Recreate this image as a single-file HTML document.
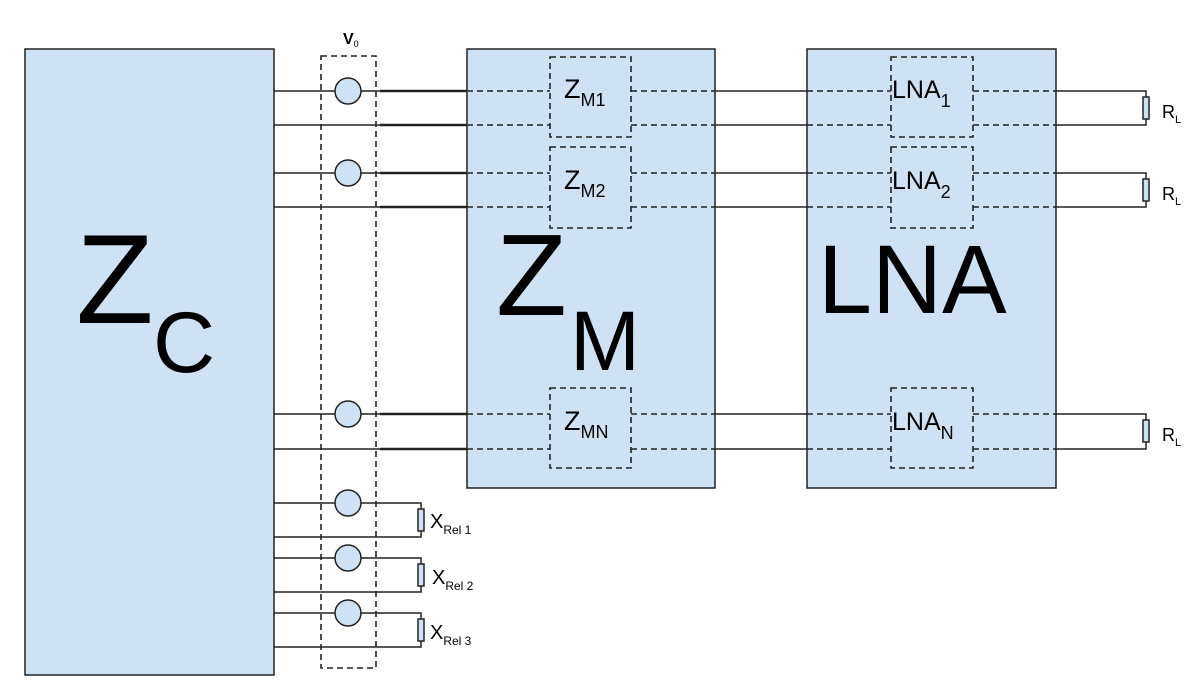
<!DOCTYPE html>
<html><head><meta charset="utf-8"><style>
body{margin:0;background:#fff;}
svg{display:block;font-family:"Liberation Sans",Arial,sans-serif;}
</style></head><body>
<svg width="1197" height="689" viewBox="0 0 1197 689" xmlns="http://www.w3.org/2000/svg">
<g stroke="#222" stroke-width="1.5">
<rect x="25" y="49" width="249" height="626" fill="#cfe2f3"/>
<rect x="467" y="49" width="248" height="439" fill="#cfe2f3"/>
<rect x="807" y="49" width="249" height="439" fill="#cfe2f3"/>
</g>
<g fill="none" stroke="#222" stroke-width="1.6" stroke-dasharray="6,4">
<rect x="321" y="56" width="55" height="612"/>
<rect x="550" y="57" width="81" height="80"/>
<rect x="550" y="147" width="81" height="81"/>
<rect x="550" y="388" width="81" height="80"/>
<rect x="891" y="57" width="82" height="80"/>
<rect x="891" y="147" width="82" height="81"/>
<rect x="891" y="388" width="82" height="80"/>
</g>
<g stroke="#222" stroke-width="1.5" fill="none">
<path d="M274 91H467M274 125H467M274 173H467M274 207H467M274 414H467M274 449H467"/>
<path d="M715 91H807M715 125H807M715 173H807M715 207H807M715 414H807M715 449H807"/>
<path d="M1056 91H1146V125H1056M1056 173H1146V207H1056M1056 414H1146V449H1056"/>
<path d="M274 503H421V537H274M274 558H421V592H274M274 613H421V647H274"/>
</g>
<g stroke="#222" stroke-width="2.5"><path d="M380 91H467M380 125H467M380 173H467M380 207H467M380 414H467M380 449H467"/></g>
<g stroke="#222" stroke-width="1.6" stroke-dasharray="6,4">
<path d="M467 91H550M467 125H550M467 173H550M467 207H550M467 414H550M467 449H550"/>
<path d="M631 91H715M631 125H715M631 173H715M631 207H715M631 414H715M631 449H715"/>
<path d="M807 91H891M807 125H891M807 173H891M807 207H891M807 414H891M807 449H891"/>
<path d="M973 91H1056M973 125H1056M973 173H1056M973 207H1056M973 414H1056M973 449H1056"/>
</g>
<g fill="#cfe2f3" stroke="#222" stroke-width="1.5">
<rect x="1143" y="97" width="6" height="22"/><rect x="1143" y="179" width="6" height="22"/><rect x="1143" y="420" width="6" height="22"/>
<rect x="418" y="509" width="6" height="22"/><rect x="418" y="564" width="6" height="22"/><rect x="418" y="619" width="6" height="22"/>
</g>
<g fill="#cfe2f3" stroke="#222" stroke-width="1.5">
<circle cx="348" cy="91" r="13"/><circle cx="348" cy="173" r="13"/><circle cx="348" cy="414" r="13"/>
<circle cx="348" cy="503" r="13"/><circle cx="348" cy="558" r="13"/><circle cx="348" cy="613" r="13"/>
</g>
<g fill="#000">
<text x="343" y="44" font-size="16" font-weight="bold">V<tspan font-size="9" font-weight="normal" dy="3">0</tspan></text>
<text x="76" y="323" font-size="127">Z</text>
<text x="153" y="372" font-size="86">C</text>
<text x="496" y="315" font-size="116">Z</text>
<text x="570" y="370" font-size="84">M</text>
<text x="818" y="313" font-size="97">LNA</text>
<text x="564" y="98" font-size="27">Z<tspan font-size="18" dy="8">M1</tspan></text>
<text x="564" y="189" font-size="27">Z<tspan font-size="18" dy="8">M2</tspan></text>
<text x="564" y="430" font-size="27">Z<tspan font-size="18" dy="8">MN</tspan></text>
<text x="892" y="98" font-size="25">LNA<tspan font-size="18" dy="9">1</tspan></text>
<text x="892" y="189" font-size="25">LNA<tspan font-size="18" dy="9">2</tspan></text>
<text x="892" y="430" font-size="25">LNA<tspan font-size="18" dy="9">N</tspan></text>
<text x="1162" y="118" font-size="18">R<tspan font-size="11" dy="5">L</tspan></text>
<text x="1162" y="200" font-size="18">R<tspan font-size="11" dy="5">L</tspan></text>
<text x="1162" y="441" font-size="18">R<tspan font-size="11" dy="5">L</tspan></text>
<text x="430" y="528" font-size="20">X<tspan font-size="12" dy="6">Rel 1</tspan></text>
<text x="432" y="584" font-size="20">X<tspan font-size="12" dy="6">Rel 2</tspan></text>
<text x="430" y="639" font-size="20">X<tspan font-size="12" dy="6">Rel 3</tspan></text>
</g>
</svg>
</body></html>
